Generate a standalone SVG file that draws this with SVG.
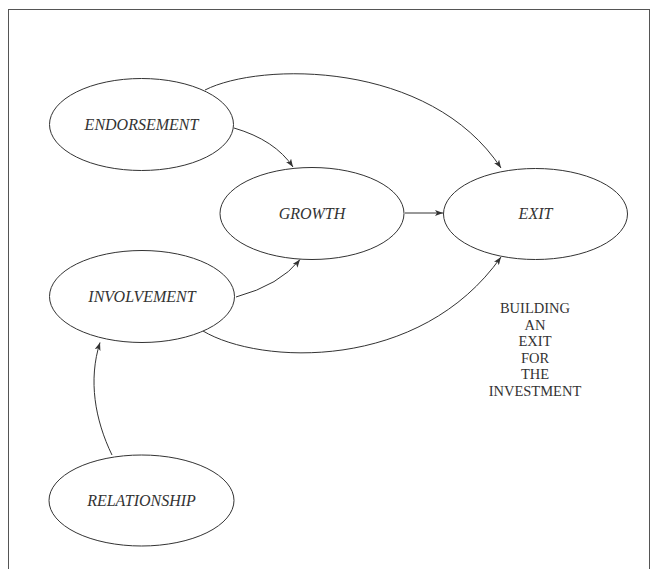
<svg xmlns="http://www.w3.org/2000/svg" width="657" height="569" viewBox="0 0 657 569">
<style>
.node ellipse{fill:#fff;stroke:#333;stroke-width:1}
.node text{font-family:"Liberation Serif","Times New Roman",serif;font-style:italic;font-size:16px;fill:#333;text-anchor:middle}
.edge{fill:none;stroke:#333;stroke-width:1;marker-end:url(#arr)}
.note{font-family:"Liberation Serif","Times New Roman",serif;font-size:14.5px;fill:#333;text-anchor:middle}
</style>
<defs>
<marker id="arr" viewBox="0 0 8 6" refX="8" refY="3" markerWidth="8" markerHeight="6" markerUnits="userSpaceOnUse" orient="auto">
<path d="M0,0 L8,3 L0,6 L2,3 Z" fill="#333"/>
</marker>
</defs>
<rect x="0" y="0" width="657" height="569" fill="#fff"/>
<rect x="8.5" y="9.5" width="641" height="580" fill="none" stroke="#555" stroke-width="1"/>
<g id="connectors">
<path class="edge" d="M205,90 C260,62 430,60 501,168"/>
<path class="edge" d="M234,128 Q275,140 293,167"/>
<path class="edge" d="M405,213 L443,213"/>
<path class="edge" d="M236,297 Q280,285 300,259.5"/>
<path class="edge" d="M203,331 C260,365 420,372 501,257"/>
<path class="edge" d="M112,455 C95,420 88,380 100,342.5"/>
</g>
<g id="endorsement" class="node"><ellipse cx="141.5" cy="124.5" rx="92" ry="46"/><text x="141.5" y="130">ENDORSEMENT</text></g>
<g id="growth" class="node"><ellipse cx="312" cy="213.5" rx="92" ry="46"/><text x="312" y="219">GROWTH</text></g>
<g id="exit" class="node"><ellipse cx="535.5" cy="214" rx="92" ry="45.5"/><text x="535.5" y="219">EXIT</text></g>
<g id="involvement" class="node"><ellipse cx="142" cy="296.5" rx="92.5" ry="46"/><text x="142" y="302">INVOLVEMENT</text></g>
<g id="relationship" class="node"><ellipse cx="141.5" cy="500.5" rx="92.5" ry="45.5"/><text x="141.5" y="506">RELATIONSHIP</text></g>
<g id="note">
<text class="note" x="535" y="313">BUILDING</text>
<text class="note" x="535" y="329.6">AN</text>
<text class="note" x="535" y="346.2">EXIT</text>
<text class="note" x="535" y="362.8">FOR</text>
<text class="note" x="535" y="379.4">THE</text>
<text class="note" x="535" y="396">INVESTMENT</text>
</g>
</svg>
